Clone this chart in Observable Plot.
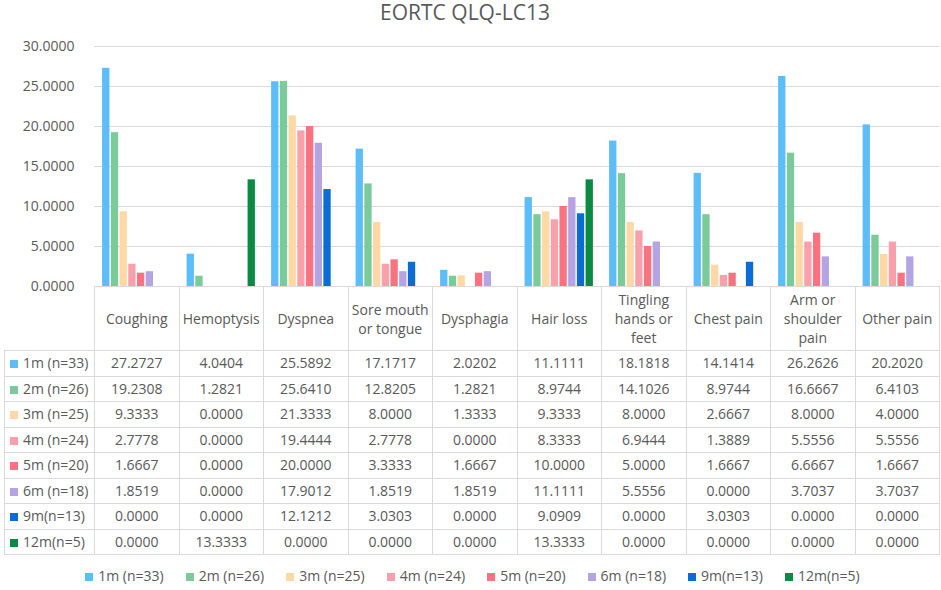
<!DOCTYPE html>
<html>
<head>
<meta charset="utf-8">
<script src="https://cdn.jsdelivr.net/npm/d3@7"></script>
<script src="https://cdn.jsdelivr.net/npm/@observablehq/plot@0.6"></script>
<style>
  html, body { margin: 0; padding: 0; background: #fff; }
  body { font-family: "Open Sans", sans-serif; color: #595959; }
  #wrap { position: relative; width: 941px; height: 590px; overflow: hidden; }
  #title { position: absolute; top: 1px; left: 0; width: 930px; text-align: center; font-size: 21px; line-height: 22px; color: #595959; }
  #chart { position: absolute; top: 0; left: 0; }
  #chart svg { overflow: visible; }
  table { position: absolute; top: 286px; left: 4px; border-collapse: collapse; table-layout: fixed; width: 935px; font-size: 14px; color: #595959; }
  td, th { border: 1px solid #d9d9d9; padding: 0 2px; text-align: center; font-weight: normal; white-space: normal; }
  tr.head th { height: 63px; line-height: 19px; }
  tr.head th.blank { border-top: none; border-left: none; border-bottom: 1px solid #d9d9d9; }
  tr.data td { height: 24.5px; line-height: 18px; }
  td.lab { text-align: left; padding-left: 5px; white-space: nowrap; }
  .sw { display: inline-block; width: 8px; height: 8px; margin-right: 5px; vertical-align: 0px; }
  #legend { position: absolute; top: 566px; left: 4px; width: 937px; display: flex; justify-content: center; gap: 22px; font-size: 14px; line-height: 20px; color: #595959; }
  #legend span.item { white-space: nowrap; }
</style>
</head>
<body>
<div id="wrap">
  <div id="chart"></div>
  <div id="title">EORTC QLQ-LC13</div>
  <table id="tbl"></table>
  <div id="legend"></div>
</div>
<script>
const categories = ["Coughing", "Hemoptysis", "Dyspnea", "Sore mouth or tongue", "Dysphagia", "Hair loss", "Tingling hands or feet", "Chest pain", "Arm or shoulder pain", "Other pain"];
const seriesNames = ["1m (n=33)", "2m (n=26)", "3m (n=25)", "4m (n=24)", "5m (n=20)", "6m (n=18)", "9m(n=13)", "12m(n=5)"];
const seriesColors = ["#5dbdf9", "#7acb99", "#ffd8a6", "#faa0ab", "#f87280", "#b4a4e3", "#0b6cd6", "#0a8a42"];
const m1 = [27.2727, 4.0404, 25.5892, 17.1717, 2.0202, 11.1111, 18.1818, 14.1414, 26.2626, 20.2020];
const m2 = [19.2308, 1.2821, 25.6410, 12.8205, 1.2821, 8.9744, 14.1026, 8.9744, 16.6667, 6.4103];
const m3 = [9.3333, 0.0000, 21.3333, 8.0000, 1.3333, 9.3333, 8.0000, 2.6667, 8.0000, 4.0000];
const m4 = [2.7778, 0.0000, 19.4444, 2.7778, 0.0000, 8.3333, 6.9444, 1.3889, 5.5556, 5.5556];
const m5 = [1.6667, 0.0000, 20.0000, 3.3333, 1.6667, 10.0000, 5.0000, 1.6667, 6.6667, 1.6667];
const m6 = [1.8519, 0.0000, 17.9012, 1.8519, 1.8519, 11.1111, 5.5556, 0.0000, 3.7037, 3.7037];
const m9 = [0.0000, 0.0000, 12.1212, 3.0303, 0.0000, 9.0909, 0.0000, 3.0303, 0.0000, 0.0000];
const m12 = [0.0000, 13.3333, 0.0000, 0.0000, 0.0000, 13.3333, 0.0000, 0.0000, 0.0000, 0.0000];
const yTicks = [0, 5, 10, 15, 20, 25, 30];

const seriesValues = [m1, m2, m3, m4, m5, m6, m9, m12];
const rows = seriesNames.flatMap((s, i) => categories.map((c, j) => ({series: s, category: c, value: seriesValues[i][j]})));
const fmt = d3.format(".4f");

const chart = Plot.plot({
  width: 941,
  height: 300,
  marginTop: 46,
  marginBottom: 14,
  marginLeft: 94,
  marginRight: 2,
  style: {fontFamily: "Open Sans, sans-serif", fontSize: "14px", color: "#595959", background: "transparent"},
  fx: {domain: categories, padding: 0, round: false, axis: null},
  x: {domain: seriesNames, axis: null, round: false, paddingInner: 0.16, paddingOuter: 0.93},
  y: {domain: [0, 30], axis: null},
  color: {domain: seriesNames, range: seriesColors},
  marks: [
    Plot.gridY(yTicks, {stroke: "#d9d9d9", strokeOpacity: 1}),
    Plot.axisY(yTicks, {tickSize: 0, tickPadding: 20, tickFormat: fmt, label: null, fill: "#595959"}),
    Plot.barY(rows, {fx: "category", x: "series", y: "value", fill: "series"})
  ]
});
document.getElementById("chart").appendChild(chart);

// data table
const tbl = d3.select("#tbl");
const cg = tbl.append("colgroup");
cg.append("col").style("width", "90px");
categories.forEach(() => cg.append("col").style("width", "84.5px"));
const head = tbl.append("tr").attr("class", "head");
head.append("th").attr("class", "blank");
categories.forEach(c => head.append("th").text(c));
seriesNames.forEach((s, i) => {
  const tr = tbl.append("tr").attr("class", "data");
  const lab = tr.append("td").attr("class", "lab");
  lab.append("span").attr("class", "sw").style("background", seriesColors[i]);
  lab.append("span").text(s);
  seriesValues[i].forEach(v => tr.append("td").text(fmt(v)));
});

// legend
const lg = d3.select("#legend");
seriesNames.forEach((s, i) => {
  const it = lg.append("span").attr("class", "item");
  it.append("span").attr("class", "sw").style("background", seriesColors[i]);
  it.append("span").text(s);
});
</script>
</body>
</html>
